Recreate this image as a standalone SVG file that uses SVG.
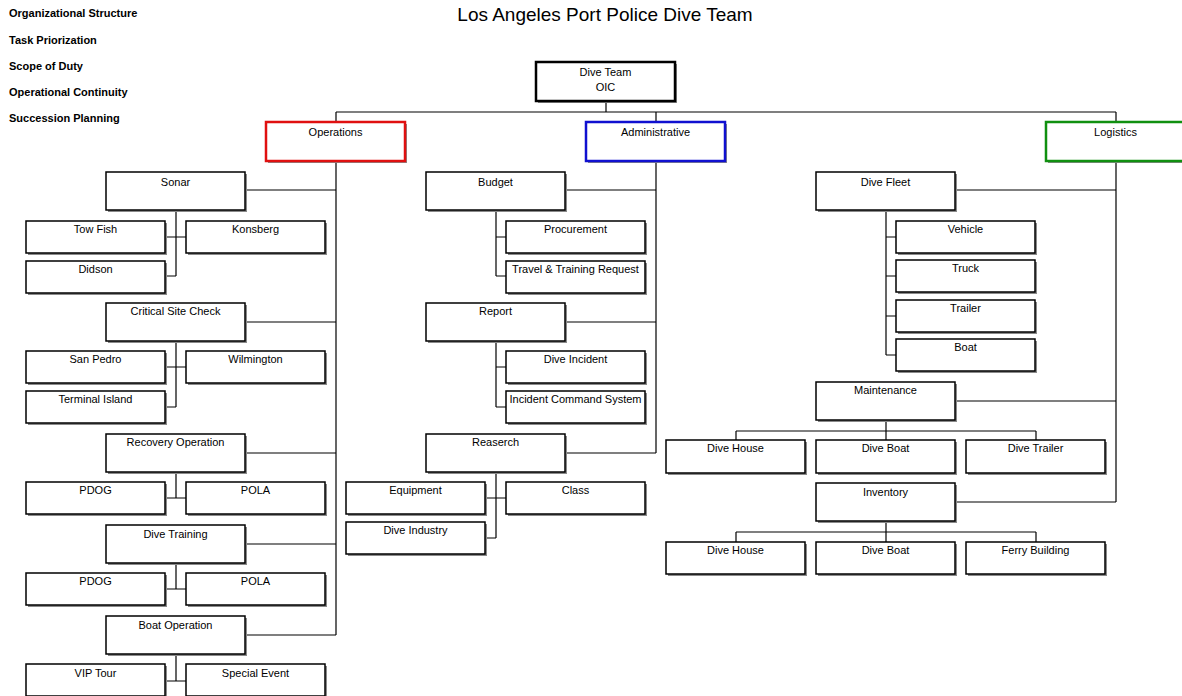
<svg xmlns="http://www.w3.org/2000/svg" width="1182" height="696" viewBox="0 0 1182 696">
<style>
.sh{fill:#8a8a8a}
.bx{fill:#fff;stroke:#000;stroke-width:1.5}
.t{font-family:"Liberation Sans",Arial,sans-serif;font-size:11px;fill:#000;text-anchor:middle}
.lb{font-family:"Liberation Sans",Arial,sans-serif;font-size:11px;font-weight:bold;fill:#000}
.c{stroke:#000;stroke-width:1.2;fill:none}
</style>
<rect width="1182" height="696" fill="#fff"/>
<text x="605" y="21" style="font-family:'Liberation Sans',Arial,sans-serif;font-size:19px" text-anchor="middle">Los Angeles Port Police Dive Team</text>
<g id="side-labels">
<text class="lb" x="9" y="17">Organizational Structure</text>
<text class="lb" x="9" y="44">Task Priorization</text>
<text class="lb" x="9" y="70">Scope of Duty</text>
<text class="lb" x="9" y="96">Operational Continuity</text>
<text class="lb" x="9" y="122">Succession Planning</text>
</g>
<g id="connectors" class="c">
<path d="M606 101V112M336 112H1116M336 112V122M656 112V122M1116 112V122"/>
<path d="M336 161V635M245 190H336M245 322H336M245 453H336M245 544H336M245 635H336"/>
<path d="M176 210V276M165 237H186M165 276H176"/>
<path d="M176 341V407M165 367H186M165 407H176"/>
<path d="M176 472V498M165 498H186"/>
<path d="M176 563V589M165 589H186"/>
<path d="M176 654V681M165 681H186"/>
<path d="M656 161V453M565 190H656M565 322H656M565 453H656"/>
<path d="M496 210V276M496 237H506M496 276H506"/>
<path d="M496 341V407M496 367H506M496 407H506"/>
<path d="M496 472V538M485 498H506M485 538H496"/>
<path d="M1116 161V502M955 190H1116M955 401H1116M955 502H1116"/>
<path d="M886 210V355M886 237H896M886 276H896M886 316H896M886 355H896"/>
<path d="M886 420V431M736 431H1036M736 431V440M886 431V440M1036 431V440"/>
<path d="M886 521V532M736 532H1036M736 532V542M886 532V542M1036 532V542"/>
</g>
<g id="oic"><rect class="sh" x="538" y="64" width="139" height="39"/><rect x="536" y="62" width="139" height="39" fill="#fff" stroke="#000" stroke-width="2.5"/><text class="t" x="605.5" y="76">Dive Team</text><text class="t" x="605.5" y="91">OIC</text></g>
<g id="operations"><rect class="sh" x="268" y="124" width="139" height="39"/><rect x="266" y="122" width="139" height="39" fill="#fff" stroke="#e01010" stroke-width="2.5"/><text class="t" x="335.5" y="136">Operations</text></g>
<g id="administrative"><rect class="sh" x="588" y="124" width="139" height="39"/><rect x="586" y="122" width="139" height="39" fill="#fff" stroke="#1010d0" stroke-width="2.5"/><text class="t" x="655.5" y="136">Administrative</text></g>
<g id="logistics"><rect class="sh" x="1048" y="124" width="139" height="39"/><rect x="1046" y="122" width="139" height="39" fill="#fff" stroke="#109010" stroke-width="2.5"/><text class="t" x="1115.5" y="136">Logistics</text></g>

<g id="sonar"><rect class="sh" x="108" y="174" width="139" height="38"/><rect class="bx" x="106" y="172" width="139" height="38"/><text class="t" x="175.5" y="186">Sonar</text></g>
<g id="towfish"><rect class="sh" x="28" y="223" width="139" height="32"/><rect class="bx" x="26" y="221" width="139" height="32"/><text class="t" x="95.5" y="233">Tow Fish</text></g>
<g id="konsberg"><rect class="sh" x="188" y="223" width="139" height="32"/><rect class="bx" x="186" y="221" width="139" height="32"/><text class="t" x="255.5" y="233">Konsberg</text></g>
<g id="didson"><rect class="sh" x="28" y="263" width="139" height="32"/><rect class="bx" x="26" y="261" width="139" height="32"/><text class="t" x="95.5" y="273">Didson</text></g>
<g id="critical"><rect class="sh" x="108" y="305" width="139" height="38"/><rect class="bx" x="106" y="303" width="139" height="38"/><text class="t" x="175.5" y="315">Critical Site Check</text></g>
<g id="sanpedro"><rect class="sh" x="28" y="353" width="139" height="32"/><rect class="bx" x="26" y="351" width="139" height="32"/><text class="t" x="95.5" y="363">San Pedro</text></g>
<g id="wilmington"><rect class="sh" x="188" y="353" width="139" height="32"/><rect class="bx" x="186" y="351" width="139" height="32"/><text class="t" x="255.5" y="363">Wilmington</text></g>
<g id="terminal"><rect class="sh" x="28" y="393" width="139" height="32"/><rect class="bx" x="26" y="391" width="139" height="32"/><text class="t" x="95.5" y="403">Terminal Island</text></g>
<g id="recovery"><rect class="sh" x="108" y="436" width="139" height="38"/><rect class="bx" x="106" y="434" width="139" height="38"/><text class="t" x="175.5" y="446">Recovery Operation</text></g>
<g id="pdog1"><rect class="sh" x="28" y="484" width="139" height="32"/><rect class="bx" x="26" y="482" width="139" height="32"/><text class="t" x="95.5" y="494">PDOG</text></g>
<g id="pola1"><rect class="sh" x="188" y="484" width="139" height="32"/><rect class="bx" x="186" y="482" width="139" height="32"/><text class="t" x="255.5" y="494">POLA</text></g>
<g id="divetraining"><rect class="sh" x="108" y="527" width="139" height="38"/><rect class="bx" x="106" y="525" width="139" height="38"/><text class="t" x="175.5" y="538">Dive Training</text></g>
<g id="pdog2"><rect class="sh" x="28" y="575" width="139" height="32"/><rect class="bx" x="26" y="573" width="139" height="32"/><text class="t" x="95.5" y="585">PDOG</text></g>
<g id="pola2"><rect class="sh" x="188" y="575" width="139" height="32"/><rect class="bx" x="186" y="573" width="139" height="32"/><text class="t" x="255.5" y="585">POLA</text></g>
<g id="boatop"><rect class="sh" x="108" y="618" width="139" height="38"/><rect class="bx" x="106" y="616" width="139" height="38"/><text class="t" x="175.5" y="629">Boat Operation</text></g>
<g id="vip"><rect class="sh" x="28" y="666" width="139" height="32"/><rect class="bx" x="26" y="664" width="139" height="32"/><text class="t" x="95.5" y="677">VIP Tour</text></g>
<g id="special"><rect class="sh" x="188" y="666" width="139" height="32"/><rect class="bx" x="186" y="664" width="139" height="32"/><text class="t" x="255.5" y="677">Special Event</text></g>

<g id="budget"><rect class="sh" x="428" y="174" width="139" height="38"/><rect class="bx" x="426" y="172" width="139" height="38"/><text class="t" x="495.5" y="186">Budget</text></g>
<g id="procurement"><rect class="sh" x="508" y="223" width="139" height="32"/><rect class="bx" x="506" y="221" width="139" height="32"/><text class="t" x="575.5" y="233">Procurement</text></g>
<g id="travel"><rect class="sh" x="508" y="263" width="139" height="32"/><rect class="bx" x="506" y="261" width="139" height="32"/><text class="t" x="575.5" y="273">Travel &amp; Training Request</text></g>
<g id="report"><rect class="sh" x="428" y="305" width="139" height="38"/><rect class="bx" x="426" y="303" width="139" height="38"/><text class="t" x="495.5" y="315">Report</text></g>
<g id="diveincident"><rect class="sh" x="508" y="353" width="139" height="32"/><rect class="bx" x="506" y="351" width="139" height="32"/><text class="t" x="575.5" y="363">Dive Incident</text></g>
<g id="ics"><rect class="sh" x="508" y="393" width="139" height="32"/><rect class="bx" x="506" y="391" width="139" height="32"/><text class="t" x="575.5" y="403">Incident Command System</text></g>
<g id="reaserch"><rect class="sh" x="428" y="436" width="139" height="38"/><rect class="bx" x="426" y="434" width="139" height="38"/><text class="t" x="495.5" y="446">Reaserch</text></g>
<g id="equipment"><rect class="sh" x="348" y="484" width="139" height="32"/><rect class="bx" x="346" y="482" width="139" height="32"/><text class="t" x="415.5" y="494">Equipment</text></g>
<g id="class"><rect class="sh" x="508" y="484" width="139" height="32"/><rect class="bx" x="506" y="482" width="139" height="32"/><text class="t" x="575.5" y="494">Class</text></g>
<g id="diveindustry"><rect class="sh" x="348" y="524" width="139" height="32"/><rect class="bx" x="346" y="522" width="139" height="32"/><text class="t" x="415.5" y="534">Dive Industry</text></g>

<g id="divefleet"><rect class="sh" x="818" y="174" width="139" height="38"/><rect class="bx" x="816" y="172" width="139" height="38"/><text class="t" x="885.5" y="186">Dive Fleet</text></g>
<g id="vehicle"><rect class="sh" x="898" y="223" width="139" height="32"/><rect class="bx" x="896" y="221" width="139" height="32"/><text class="t" x="965.5" y="233">Vehicle</text></g>
<g id="truck"><rect class="sh" x="898" y="262" width="139" height="32"/><rect class="bx" x="896" y="260" width="139" height="32"/><text class="t" x="965.5" y="272">Truck</text></g>
<g id="trailer"><rect class="sh" x="898" y="302" width="139" height="32"/><rect class="bx" x="896" y="300" width="139" height="32"/><text class="t" x="965.5" y="312">Trailer</text></g>
<g id="boat"><rect class="sh" x="898" y="341" width="139" height="32"/><rect class="bx" x="896" y="339" width="139" height="32"/><text class="t" x="965.5" y="351">Boat</text></g>
<g id="maintenance"><rect class="sh" x="818" y="384" width="139" height="38"/><rect class="bx" x="816" y="382" width="139" height="38"/><text class="t" x="885.5" y="394">Maintenance</text></g>
<g id="divehouse1"><rect class="sh" x="668" y="442" width="139" height="33"/><rect class="bx" x="666" y="440" width="139" height="33"/><text class="t" x="735.5" y="452">Dive House</text></g>
<g id="diveboat1"><rect class="sh" x="818" y="442" width="139" height="33"/><rect class="bx" x="816" y="440" width="139" height="33"/><text class="t" x="885.5" y="452">Dive Boat</text></g>
<g id="divetrailer"><rect class="sh" x="968" y="442" width="139" height="33"/><rect class="bx" x="966" y="440" width="139" height="33"/><text class="t" x="1035.5" y="452">Dive Trailer</text></g>
<g id="inventory"><rect class="sh" x="818" y="485" width="139" height="38"/><rect class="bx" x="816" y="483" width="139" height="38"/><text class="t" x="885.5" y="496">Inventory</text></g>
<g id="divehouse2"><rect class="sh" x="668" y="544" width="139" height="32"/><rect class="bx" x="666" y="542" width="139" height="32"/><text class="t" x="735.5" y="554">Dive House</text></g>
<g id="diveboat2"><rect class="sh" x="818" y="544" width="139" height="32"/><rect class="bx" x="816" y="542" width="139" height="32"/><text class="t" x="885.5" y="554">Dive Boat</text></g>
<g id="ferry"><rect class="sh" x="968" y="544" width="139" height="32"/><rect class="bx" x="966" y="542" width="139" height="32"/><text class="t" x="1035.5" y="554">Ferry Building</text></g>
</svg>
